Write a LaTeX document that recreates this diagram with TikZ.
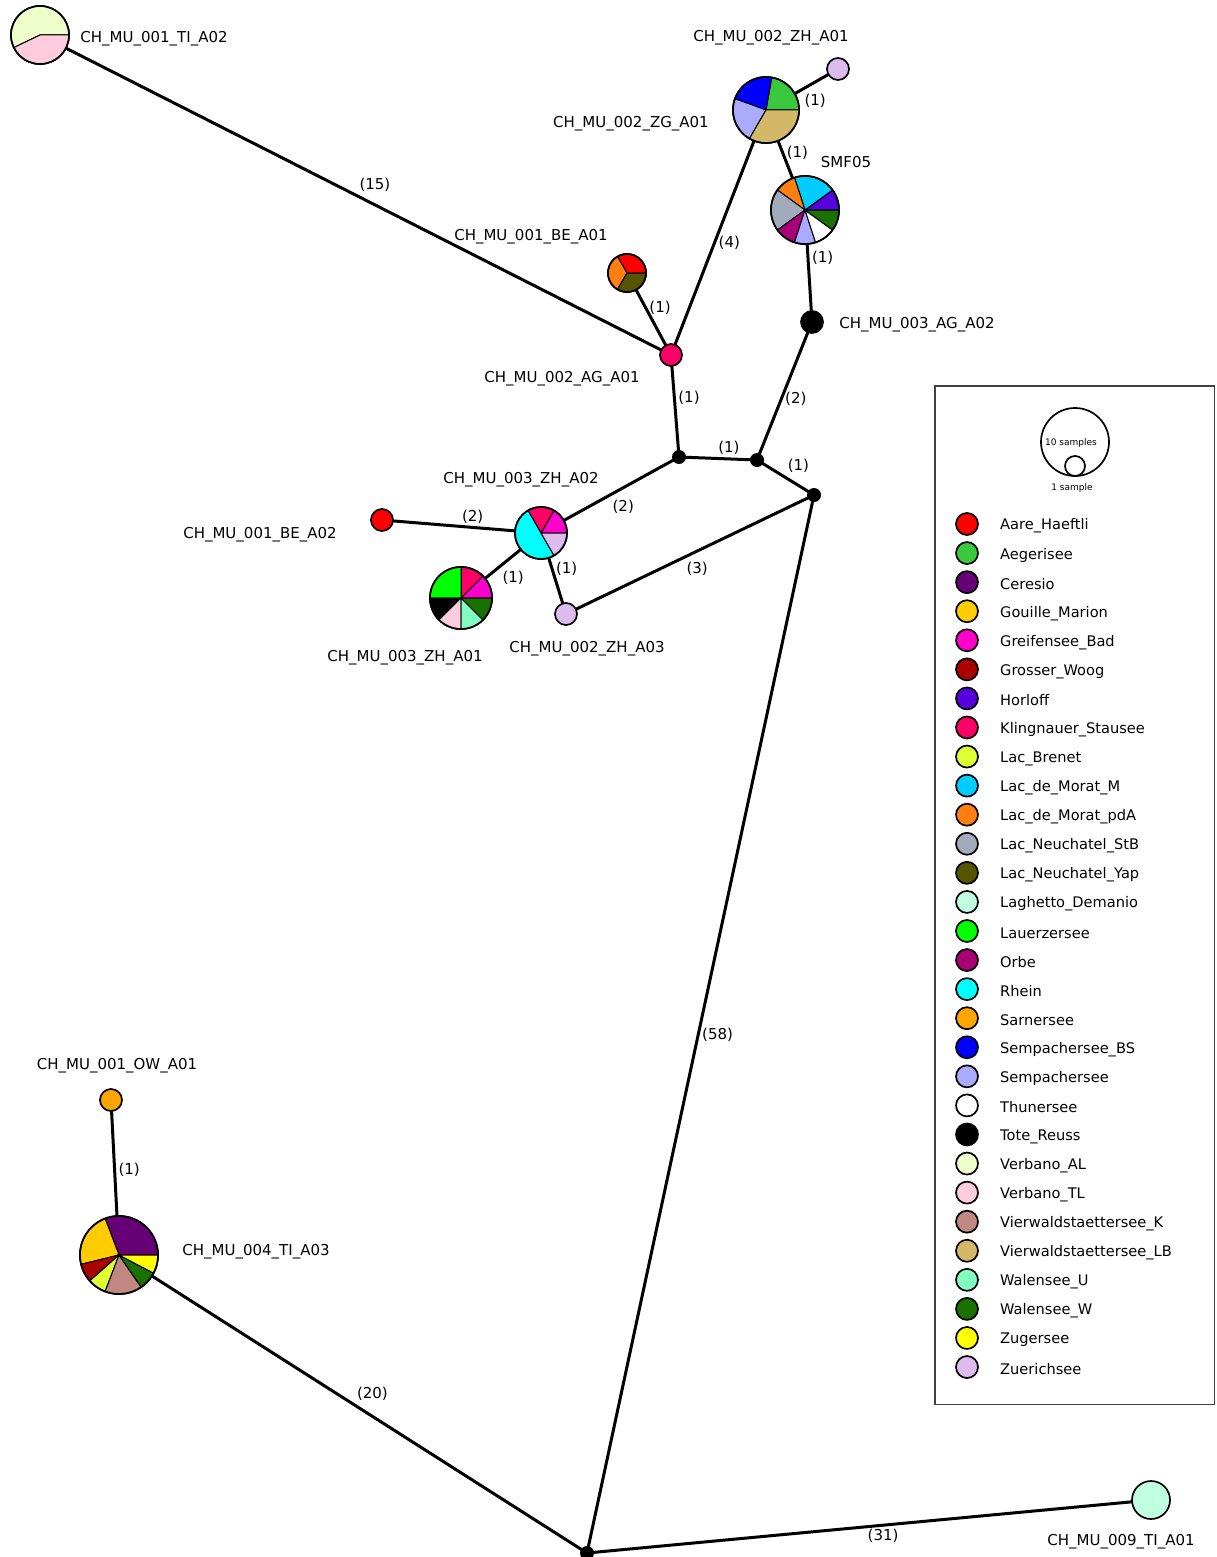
\documentclass[tikz,border=0pt]{standalone}
\usepackage{fontspec}
\setmainfont{DejaVu Sans}
\usetikzlibrary{backgrounds}

% Population colours
\definecolor{aare}{HTML}{FF0000}
\definecolor{aegerisee}{HTML}{3CC83C}
\definecolor{ceresio}{HTML}{660077}
\definecolor{gouille}{HTML}{FFCC00}
\definecolor{greifensee}{HTML}{FF00CC}
\definecolor{woog}{HTML}{AA0000}
\definecolor{horloff}{HTML}{5500DD}
\definecolor{klingnauer}{HTML}{FF0066}
\definecolor{brenet}{HTML}{DDFF33}
\definecolor{moratM}{HTML}{00CCFF}
\definecolor{moratpdA}{HTML}{FF8011}
\definecolor{neuStB}{HTML}{A2ABBB}
\definecolor{neuYap}{HTML}{555500}
\definecolor{laghetto}{HTML}{C0FFE0}
\definecolor{lauerzersee}{HTML}{00FF00}
\definecolor{orbe}{HTML}{AA0077}
\definecolor{rhein}{HTML}{00FFFF}
\definecolor{sarnersee}{HTML}{FFA500}
\definecolor{sempBS}{HTML}{0000FF}
\definecolor{semp}{HTML}{AAAAFF}
\definecolor{verbanoAL}{HTML}{EEFFCC}
\definecolor{verbanoTL}{HTML}{FFCCDD}
\definecolor{vierK}{HTML}{C08880}
\definecolor{vierLB}{HTML}{D4B86A}
\definecolor{walenU}{HTML}{80FFC0}
\definecolor{walenW}{HTML}{1A7000}
\definecolor{zugersee}{HTML}{FFFF00}
\definecolor{zuerichsee}{HTML}{DDBBEE}

\tikzset{
  hap/.style={circle, draw, line width=1.7pt, inner sep=0pt},
  junc/.style={circle, fill=black, inner sep=0pt},
  edge/.style={line width=3pt},
  elab/.style={font=\fontsize{15}{18}\selectfont, inner sep=2.5pt},
  lab/.style={font=\fontsize{15}{18}\selectfont, inner sep=0pt},
  leglab/.style={font=\fontsize{14.6}{18}\selectfont, inner sep=0pt},
  tiny/.style={font=\fontsize{9}{10}\selectfont, inner sep=0pt},
}

% pie slices on a haplotype node: node, radius, start/end/colour
\newcommand{\hapslices}[3]{%
  \foreach \sa/\ea/\col in {#3}
    \filldraw[fill=\col, draw=black, line width=1pt] (#1.center) -- ++(-\sa:#2)
      arc[start angle=-\sa, end angle=-\ea, radius=#2] -- cycle;
  \draw[line width=1.7pt] (#1.center) circle[radius=#2];
}

\begin{document}
\begin{tikzpicture}[x=1pt, y=-1pt]
    \useasboundingbox (0,0) rectangle (1216,1557);

    % Haplotypes
    \node[hap, minimum size=58pt] (tiA02) at (40,35) {};
    \node[hap, fill=zuerichsee, minimum size=22pt] (zhA01) at (838,69) {};
    \node[hap, minimum size=66pt] (zgA01) at (766,110) {};
    \node[hap, minimum size=68pt] (smf) at (805,210) {};
    \node[hap, minimum size=38pt] (beA01) at (627,273) {};
    \node[hap, fill=klingnauer, minimum size=22pt] (agA01) at (671,355) {};
    \node[hap, fill=black, minimum size=22pt] (agA02) at (812,322) {};
    \node[hap, minimum size=52pt] (zhA02) at (541,533) {};
    \node[hap, fill=aare, minimum size=22pt] (beA02) at (382,520) {};
    \node[hap, minimum size=62pt] (zh3A01) at (461,598) {};
    \node[hap, fill=zuerichsee, minimum size=22pt] (zhA03) at (566,614) {};
    \node[hap, fill=sarnersee, minimum size=22pt] (owA01) at (111,1100) {};
    \node[hap, minimum size=78pt] (tiA03) at (119,1255) {};
    \node[hap, fill=laghetto, minimum size=38pt] (tiA01) at (1151,1500) {};

    % Median vectors
    \node[junc, minimum size=14pt] (j1) at (679,457) {};
    \node[junc, minimum size=14pt] (j2) at (757,460) {};
    \node[junc, minimum size=14pt] (j3) at (814,495) {};
    \node[junc, minimum size=14pt] (j4) at (587,1553) {};

    % Mutational steps
    \begin{scope}[on background layer]
    \draw[edge] (tiA02.center) -- node[elab, pos=0.5, above right] {(15)} (agA01.center);
    \draw[edge] (beA01.center) -- node[elab, pos=0.42, right] {(1)} (agA01.center);
    \draw[edge] (zgA01.center) -- node[elab, pos=0.54, right] {(4)} (agA01.center);
    \draw[edge] (zgA01.center) -- node[elab, pos=0.48, below right] {(1)} (zhA01.center);
    \draw[edge] (zgA01.center) -- node[elab, pos=0.43, right] {(1)} (smf.center);
    \draw[edge] (smf.center) -- node[elab, pos=0.43, right] {(1)} (agA02.center);
    \draw[edge] (agA02.center) -- node[elab, pos=0.56, right] {(2)} (j2.center);
    \draw[edge] (agA01.center) -- node[elab, pos=0.42, right] {(1)} (j1.center);
    \draw[edge] (j1.center) -- node[elab, pos=0.64, above] {(1)} (j2.center);
    \draw[edge] (j2.center) -- node[elab, pos=0.47, above right] {(1)} (j3.center);
    \draw[edge] (j1.center) -- node[elab, pos=0.51, below right] {(2)} (zhA02.center);
    \draw[edge] (beA02.center) -- node[elab, pos=0.57, above] {(2)} (zhA02.center);
    \draw[edge] (zhA02.center) -- node[elab, pos=0.53, below right] {(1)} (zh3A01.center);
    \draw[edge] (zhA02.center) -- node[elab, pos=0.44, right] {(1)} (zhA03.center);
    \draw[edge] (zhA03.center) -- node[elab, pos=0.47, below right] {(3)} (j3.center);
    \draw[edge] (j3.center) -- node[elab, pos=0.51, right] {(58)} (j4.center);
    \draw[edge] (owA01.center) -- node[elab, pos=0.45, right] {(1)} (tiA03.center);
    \draw[edge] (tiA03.center) -- node[elab, pos=0.5, above right] {(20)} (j4.center);
    \draw[edge] (j4.center) -- node[elab, pos=0.525, below] {(31)} (tiA01.center);
    \end{scope}

    % Pie charts
    \hapslices{tiA02}{29}{0/205.7/verbanoAL, 205.7/360/verbanoTL}
    \hapslices{zgA01}{33}{0/80/aegerisee, 80/160/sempBS, 160/240/semp, 240/360/vierLB}
    \hapslices{smf}{34}{0/36/horloff, 36/108/moratM, 108/144/moratpdA, 144/216/neuStB,
      216/252/orbe, 252/288/semp, 288/324/white, 324/360/walenW}
    \hapslices{beA01}{19}{0/120/aare, 120/240/moratpdA, 240/360/neuYap}
    \hapslices{zhA02}{26}{0/60/greifensee, 60/120/klingnauer, 120/300/rhein, 300/360/zuerichsee}
    \hapslices{zh3A01}{31}{0/45/greifensee, 45/90/klingnauer, 90/180/lauerzersee, 180/225/black,
      225/270/verbanoTL, 270/315/walenU, 315/360/walenW}
    \hapslices{tiA03}{39}{0/110.8/ceresio, 110.8/193.8/gouille, 193.8/221.5/woog,
      221.5/249.2/brenet, 249.2/304.6/vierK, 304.6/332.3/walenW, 332.3/360/zugersee}

    % Haplotype names
    \node[lab] (tiA02lab) at (154,39) {CH\_MU\_001\_TI\_A02};
    \node[lab] (zhA01lab) at (771,38) {CH\_MU\_002\_ZH\_A01};
    \node[lab] (zgA01lab) at (631,124) {CH\_MU\_002\_ZG\_A01};
    \node[lab] (smflab) at (846,162) {SMF05};
    \node[lab] (beA01lab) at (531,237) {CH\_MU\_001\_BE\_A01};
    \node[lab] (agA02lab) at (917,325) {CH\_MU\_003\_AG\_A02};
    \node[lab] (agA01lab) at (562,379) {CH\_MU\_002\_AG\_A01};
    \node[lab] (zhA02lab) at (521,480) {CH\_MU\_003\_ZH\_A02};
    \node[lab] (beA02lab) at (260,535) {CH\_MU\_001\_BE\_A02};
    \node[lab] (zh3A01lab) at (405,658) {CH\_MU\_003\_ZH\_A01};
    \node[lab] (zhA03lab) at (587,649) {CH\_MU\_002\_ZH\_A03};
    \node[lab] (owA01lab) at (117,1066) {CH\_MU\_001\_OW\_A01};
    \node[lab] (tiA03lab) at (256,1252) {CH\_MU\_004\_TI\_A03};
    \node[lab] (tiA01lab) at (1121,1542) {CH\_MU\_009\_TI\_A01};

    % Legend
    \draw[line width=1.3pt, black!75] (935,386) rectangle (1214.5,1404.5);
    \node[hap, minimum size=68pt] (ten) at (1075,442) {};
    \node[hap, minimum size=20pt] (one) at (1075,466) {};
    \node[tiny] (tenlab) at (1071,443) {10 samples};
    \node[tiny] (onelab) at (1072,488) {1 sample};
    \foreach \nm/\col [count=\i from 0] in {Aare\_Haeftli/aare, Aegerisee/aegerisee,
        Ceresio/ceresio, Gouille\_Marion/gouille, Greifensee\_Bad/greifensee,
        Grosser\_Woog/woog, Horloff/horloff, Klingnauer\_Stausee/klingnauer,
        Lac\_Brenet/brenet, Lac\_de\_Morat\_M/moratM, Lac\_de\_Morat\_pdA/moratpdA,
        Lac\_Neuchatel\_StB/neuStB, Lac\_Neuchatel\_Yap/neuYap,
        Laghetto\_Demanio/laghetto, Lauerzersee/lauerzersee, Orbe/orbe, Rhein/rhein,
        Sarnersee/sarnersee, Sempachersee\_BS/sempBS, Sempachersee/semp,
        Thunersee/white, Tote\_Reuss/black, Verbano\_AL/verbanoAL,
        Verbano\_TL/verbanoTL, Vierwaldstaettersee\_K/vierK,
        Vierwaldstaettersee\_LB/vierLB, Walensee\_U/walenU, Walensee\_W/walenW,
        Zugersee/zugersee, Zuerichsee/zuerichsee} {
      \node[hap, fill=\col, minimum size=22pt] (leg\i) at (967,{524+29.07*\i}) {};
      \node[leglab, anchor=west] (legtxt\i) at (1000,{526+29.07*\i}) {\nm};
    }
\end{tikzpicture}
\end{document}
